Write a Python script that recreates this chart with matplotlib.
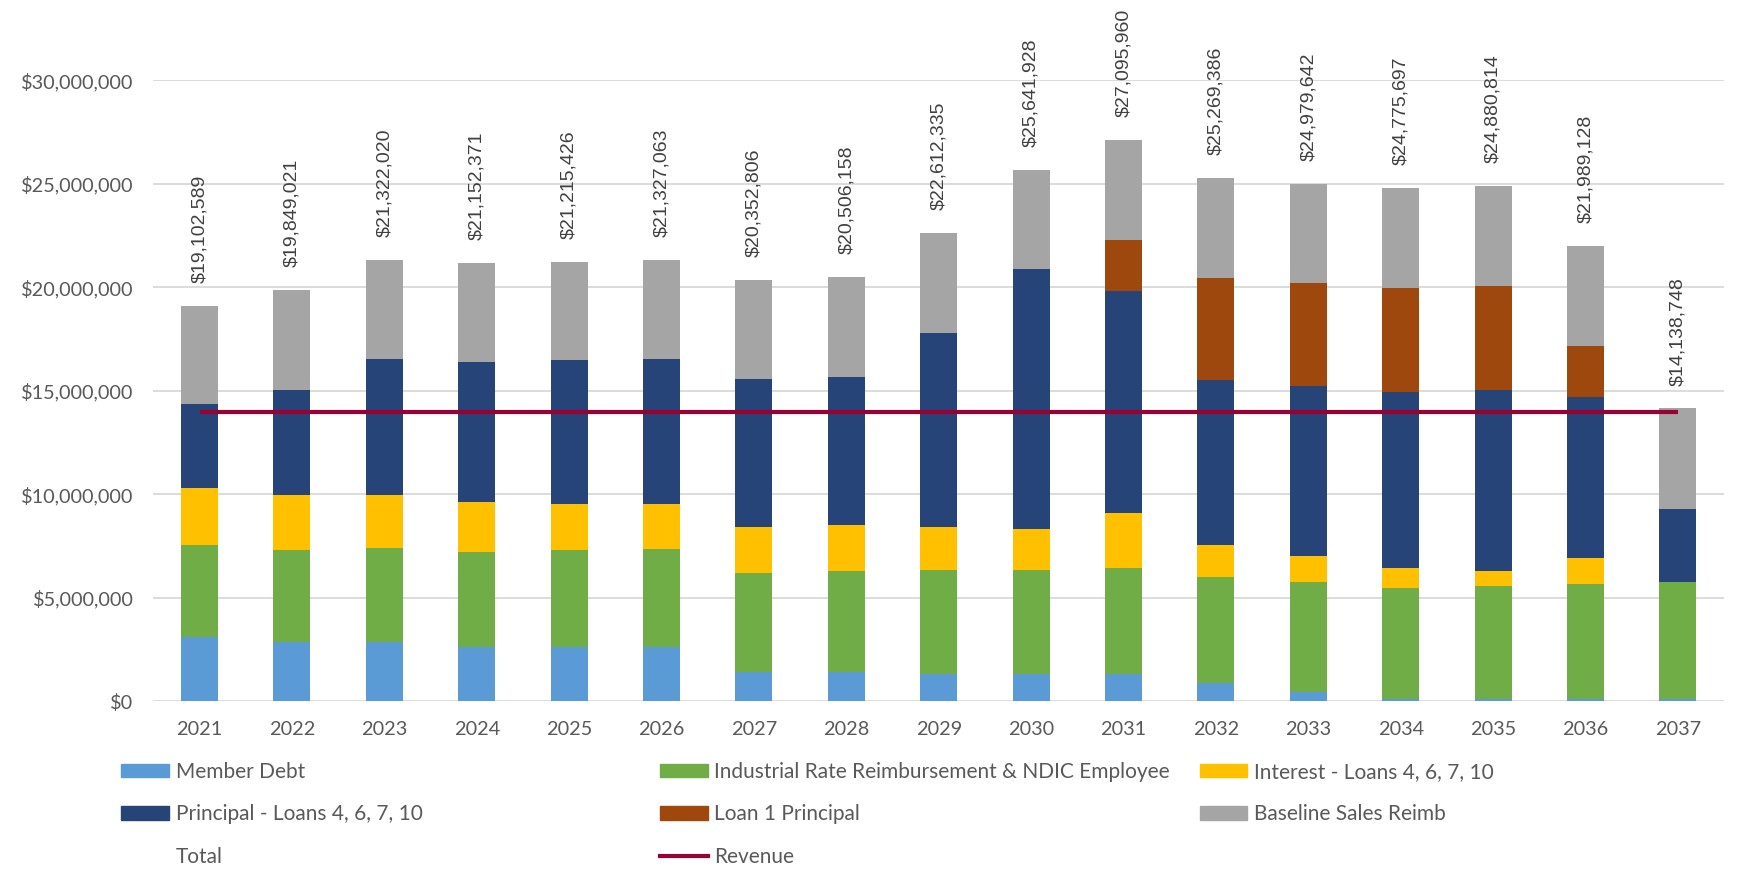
import matplotlib
matplotlib.use("Agg")
import matplotlib.pyplot as plt
from matplotlib.patches import Patch
from matplotlib.lines import Line2D
from matplotlib.ticker import FuncFormatter
import numpy as np

years = ["2021", "2022", "2023", "2024", "2025", "2026", "2027", "2028", "2029",
         "2030", "2031", "2032", "2033", "2034", "2035", "2036", "2037"]

member_debt = [3.12, 2.85, 2.85, 2.60, 2.60, 2.60, 1.43, 1.43, 1.33, 1.33, 1.33,
               0.89, 0.44, 0.10, 0.10, 0.10, 0.10]
industrial = [4.43, 4.45, 4.53, 4.62, 4.70, 4.76, 4.74, 4.84, 5.02, 5.02, 5.11,
              5.10, 5.30, 5.35, 5.47, 5.56, 5.66]
interest = [2.75, 2.65, 2.57, 2.38, 2.20, 2.14, 2.23, 2.23, 2.05, 1.95, 2.66,
            1.56, 1.29, 1.00, 0.73, 1.24, 0.00]
principal = [4.05, 5.10, 6.60, 6.77, 6.97, 7.05, 7.18, 7.17, 9.38, 12.57, 10.70,
             7.95, 8.20, 8.50, 8.73, 7.77, 3.53]
loan1 = [0, 0, 0, 0, 0, 0, 0, 0, 0, 0, 2.50, 4.92, 4.95, 5.03, 5.02, 2.48, 0]
baseline = [4.75, 4.80, 4.77, 4.78, 4.75, 4.78, 4.77, 4.84, 4.83, 4.77, 4.80,
            4.85, 4.80, 4.80, 4.83, 4.84, 4.85]
totals = [19102589, 19849021, 21322020, 21152371, 21215426, 21327063, 20352806,
          20506158, 22612335, 25641928, 27095960, 25269386, 24979642, 24775697,
          24880814, 21989128, 14138748]
revenue = [13.97, 13.97, 13.97, 13.97, 13.97, 13.97, 13.97, 13.97, 13.97,
           13.97, 13.97, 13.97, 13.97, 13.97, 13.97, 13.97, 13.97]

series_names = ["Member Debt", "Industrial Rate Reimbursement & NDIC Employee",
                "Interest - Loans 4, 6, 7, 10", "Principal - Loans 4, 6, 7, 10",
                "Loan 1 Principal", "Baseline Sales Reimb"]
colors = ["#5B9BD5", "#70AD47", "#FFC000", "#264478", "#9E480E", "#A5A5A5"]
revenue_color = "#990033"

W, H = 1741, 871
fig = plt.figure(figsize=(W / 100, H / 100), dpi=100)
ax = fig.add_axes([0.0881, 0.195, 0.9022, 0.713])

x = np.arange(len(years))
bottom = np.zeros(len(years))
for vals, col in zip([member_debt, industrial, interest, principal, loan1, baseline], colors):
    v = np.array(vals) * 1e6
    ax.bar(x, v, width=0.40, bottom=bottom, color=col, edgecolor="none", zorder=2)
    bottom += v

ax.plot(x, np.array(revenue) * 1e6, color=revenue_color, lw=3.0, zorder=3,
        solid_capstyle="butt")

for xi, top, t in zip(x, bottom, totals):
    ax.annotate("${:,}".format(t), (xi, top), xytext=(0, 16.5), textcoords="offset points",
                rotation=90, ha="center", va="bottom", fontsize=14,
                family="Liberation Sans", color="#404040", annotation_clip=False)

ax.set_xlim(-0.5, 16.5)
ax.set_ylim(0, 30e6)
ax.set_yticks(np.arange(0, 30e6 + 1, 5e6))
ax.yaxis.set_major_formatter(FuncFormatter(lambda v, p: "${:,.0f}".format(v)))
ax.set_xticks(x)
ax.set_xticklabels(years)
for lab in ax.get_xticklabels() + ax.get_yticklabels():
    lab.set_fontfamily("Lato")
    lab.set_fontsize(14.3)
    lab.set_color("#595959")
ax.tick_params(axis="both", length=0)
ax.tick_params(axis="y", pad=14.4)
ax.tick_params(axis="x", pad=14)
ax.grid(axis="y", color="#D9D9D9", lw=1.3, zorder=0)
ax.set_axisbelow(True)
for s in ax.spines.values():
    s.set_visible(False)

blank = Patch(facecolor="none", edgecolor="none")
col_specs = [
    (0.0697, [(Patch(color=colors[0]), series_names[0]),
              (Patch(color=colors[3]), series_names[3]),
              (blank, "Total")]),
    (0.379, [(Patch(color=colors[1]), series_names[1]),
             (Patch(color=colors[4]), series_names[4]),
             (Line2D([], [], color=revenue_color, lw=3.0), "Revenue")]),
    (0.689, [(Patch(color=colors[2]), series_names[2]),
             (Patch(color=colors[5]), series_names[5])]),
]
for xpos, items in col_specs:
    leg = fig.legend([h for h, _ in items], [l for _, l in items],
                     loc="upper left", bbox_to_anchor=(xpos, 0.1255),
                     frameon=False, borderpad=0, borderaxespad=0,
                     handlelength=2.3, handleheight=0.62, handletextpad=0.3,
                     labelspacing=1.09, prop={"family": "Lato", "size": 15})
    for t in leg.get_texts():
        t.set_color("#595959")

fig.savefig("out.png", dpi=100, facecolor="white")
